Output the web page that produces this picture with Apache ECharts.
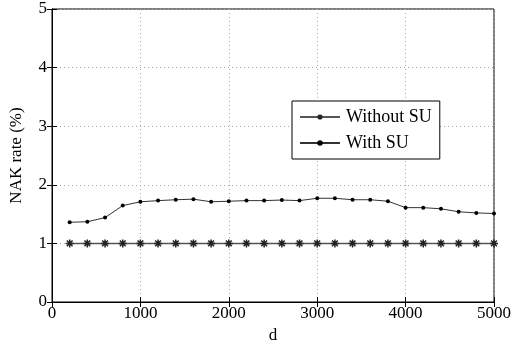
<!DOCTYPE html>
<html><head><meta charset="utf-8">
<script src="https://cdn.jsdelivr.net/npm/echarts@6/dist/echarts.min.js"></script>
<style>html,body{margin:0;padding:0;background:#fff}#c{width:520px;height:349px}</style>
</head><body><div id="c"></div>
<script>
var dValues = [200,400,600,800,1000,1200,1400,1600,1800,2000,2200,2400,2600,2800,3000,3200,3400,3600,3800,4000,4200,4400,4600,4800,5000];
var withoutSU = [1,1,1,1,1,1,1,1,1,1,1,1,1,1,1,1,1,1,1,1,1,1,1,1,1];
var withSU = [1.36,1.37,1.44,1.645,1.71,1.73,1.745,1.755,1.71,1.72,1.73,1.73,1.74,1.73,1.77,1.77,1.745,1.745,1.72,1.61,1.61,1.59,1.54,1.52,1.51];
var xTicks = [0,1000,2000,3000,4000,5000];
var yTicks = [0,1,2,3,4,5];

function pairs(xs, ys){ return xs.map(function(x,i){return [x, ys[i]];}); }
var font = 'Liberation Serif';
var star = 'path://M0,-5L0,5M-5,0L5,0M-3.6,-3.6L3.6,3.6M-3.6,3.6L3.6,-3.6';
var chart = echarts.init(document.getElementById('c'), null, {renderer:'canvas'});
chart.setOption({
  animation:false,
  backgroundColor:'#fff',
  grid:{left:50.5, right:26, top:9, bottom:43.5, show:true, borderColor:'#000', borderWidth:1},
  legend:{
    left:292, top:101, orient:'vertical', itemWidth:40, itemHeight:7, itemGap:8,
    padding:[7,8,7,7], borderColor:'#000', borderWidth:1, backgroundColor:'#fff',
    textStyle:{fontFamily:font, fontSize:18, color:'#000', padding:[0,0,0,1]},
    data:[
      {name:'Without SU', itemStyle:{color:'#222', borderColor:'#222', borderWidth:1.2}},
      {name:'With SU', itemStyle:{color:'#000', borderWidth:0}}
    ]
  },
  xAxis:[{
    type:'value', min:xTicks[0], max:xTicks[xTicks.length-1], interval:1000,
    name:'d', nameLocation:'middle', nameGap:25,
    nameTextStyle:{fontFamily:font, fontSize:17, color:'#000'},
    axisLine:{show:true, lineStyle:{color:'#000'}},
    axisTick:{show:true, inside:true, length:5, lineStyle:{color:'#000'}},
    axisLabel:{fontFamily:font, fontSize:17, color:'#000', margin:3, formatter:function(v){return String(v);}},
    splitLine:{show:true, lineStyle:{color:'#aaa', type:[1,3], width:1}}
  },{
    type:'value', position:'top', min:0, max:5000, interval:1000,
    axisLine:{show:true, lineStyle:{color:'#000'}},
    axisTick:{show:true, inside:true, length:5, lineStyle:{color:'#000'}},
    axisLabel:{show:false}, splitLine:{show:false}
  }],
  yAxis:[{
    type:'value', min:yTicks[0], max:yTicks[yTicks.length-1], interval:1,
    name:'NAK rate (%)', nameLocation:'middle', nameGap:27,
    nameTextStyle:{fontFamily:font, fontSize:17, color:'#000'},
    axisLine:{show:true, lineStyle:{color:'#000'}},
    axisTick:{show:true, inside:true, length:5, lineStyle:{color:'#000'}},
    axisLabel:{fontFamily:font, fontSize:17, color:'#000', margin:5},
    splitLine:{show:true, lineStyle:{color:'#aaa', type:[1,3], width:1}}
  },{
    type:'value', position:'right', min:0, max:5, interval:1,
    axisLine:{show:true, lineStyle:{color:'#000'}},
    axisTick:{show:true, inside:true, length:5, lineStyle:{color:'#000'}},
    axisLabel:{show:false}, splitLine:{show:false}
  }],
  series:[{
    name:'Without SU', type:'line', data:pairs(dValues, withoutSU),
    symbol:star, symbolSize:8,
    lineStyle:{color:'#555', width:1.5},
    itemStyle:{color:'#222', borderColor:'#222', borderWidth:1.5}
  },{
    name:'With SU', type:'line', data:pairs(dValues, withSU),
    symbol:'circle', symbolSize:4,
    lineStyle:{color:'#333', width:1},
    itemStyle:{color:'#000', borderWidth:0}
  }]
});
</script></body></html>
